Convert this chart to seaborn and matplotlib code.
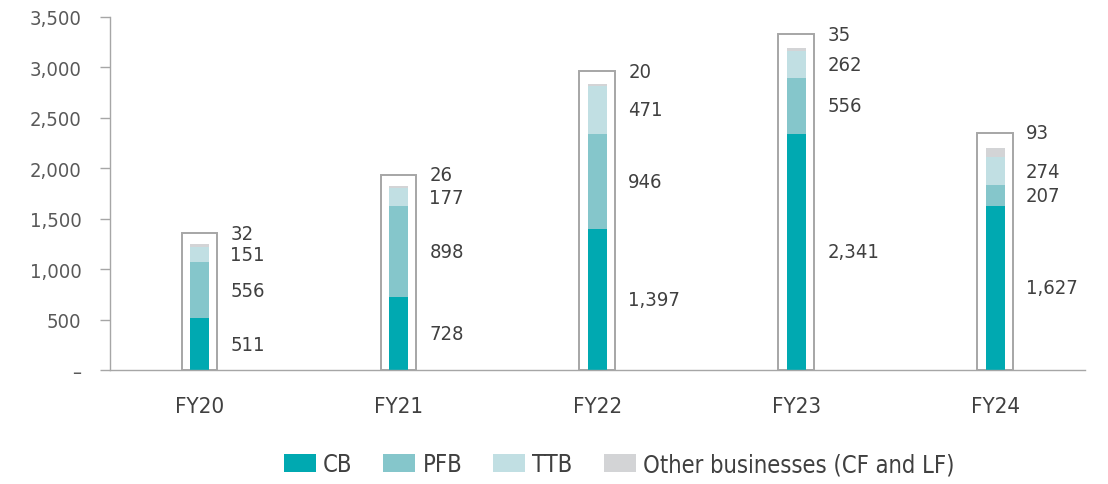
import matplotlib
matplotlib.use("Agg")
import matplotlib.pyplot as plt
from matplotlib.patches import Patch
import numpy as np
import pandas as pd
import seaborn as sns

# Segment values per fiscal year
years = ["FY20", "FY21", "FY22", "FY23", "FY24"]
cb = [511, 728, 1397, 2341, 1627]
pfb = [556, 898, 946, 556, 207]
ttb = [151, 177, 471, 262, 274]
other = [32, 26, 20, 35, 93]
# Height of the outline frame around each stacked column
frame = [1355, 1935, 2960, 3330, 2350]

series_names = ["CB", "PFB", "TTB", "Other businesses (CF and LF)"]
colors = ["#00a9b1", "#85c6cb", "#c1dfe3", "#d3d4d6"]

sns.set_theme(style="white")
plt.rcParams["font.family"] = ["DejaVu Sans"]
plt.rcParams["font.stretch"] = "condensed"

text_col = "#404040"
tick_col = "#595959"
axis_col = "#a6a6a6"
num_size = 14.5
cat_size = 16
leg_size = 17

fig = plt.figure(figsize=(11.08, 4.85), dpi=100)
ax = fig.add_axes([0.0993, 0.235, 0.8797, 0.728])

df = pd.DataFrame({"year": years, "CB": cb, "PFB": pfb, "TTB": ttb,
                   "Other": other, "frame": frame})
stack = np.column_stack([cb, pfb, ttb, other]).astype(float)
cum = np.cumsum(stack, axis=1)
for i in range(4):
    df[f"c{i}"] = cum[:, i]

# Outline frame
sns.barplot(data=df, x="year", y="frame", order=years, fill=False,
            color=axis_col, width=0.18, linewidth=1.4, ax=ax, zorder=1)

# Stacked segments drawn as overlapping cumulative bars, top layer first
for i in range(3, -1, -1):
    sns.barplot(data=df, x="year", y=f"c{i}", order=years, color=colors[i],
                saturation=1, width=0.095, linewidth=0, ax=ax, zorder=2)

# Value labels beside each column
for j in range(len(years)):
    xl = j + 0.155
    bottoms = np.concatenate([[0], cum[j, :-1]])
    for i in range(3):
        ax.text(xl, bottoms[i] + stack[j, i] / 2, f"{int(stack[j, i]):,}",
                va="center", ha="left", fontsize=num_size, color=text_col)
    ax.text(xl, frame[j], f"{int(stack[j, 3]):,}", va="center", ha="left",
            fontsize=num_size, color=text_col)

ax.set_xlim(-0.45, 4.45)
ax.set_ylim(0, 3500)
ax.set_yticks(np.arange(0, 3501, 500))
ax.set_yticklabels(["–"] + [f"{v:,}" for v in range(500, 3501, 500)])
ax.set_xlabel("")
ax.set_ylabel("")

for side in ["top", "right"]:
    ax.spines[side].set_visible(False)
for side in ["left", "bottom"]:
    ax.spines[side].set_color(axis_col)
    ax.spines[side].set_linewidth(1.0)

ax.tick_params(axis="y", left=True, length=7.2, width=1.0, color=axis_col,
               pad=13.5, labelsize=num_size, labelcolor=tick_col)
ax.tick_params(axis="x", bottom=False, length=0, pad=18.5, labelsize=cat_size,
               labelcolor=text_col)

handles = [Patch(facecolor=c, edgecolor="none") for c in colors]
fig.legend(handles, series_names, loc="center", bbox_to_anchor=(0.5587, 0.041),
           ncol=4, frameon=False, prop=dict(size=leg_size, stretch="condensed"),
           handlelength=1.36, handleheight=0.8, handletextpad=0.3,
           columnspacing=1.31, labelcolor=text_col)

fig.savefig("out.png", dpi=100)
